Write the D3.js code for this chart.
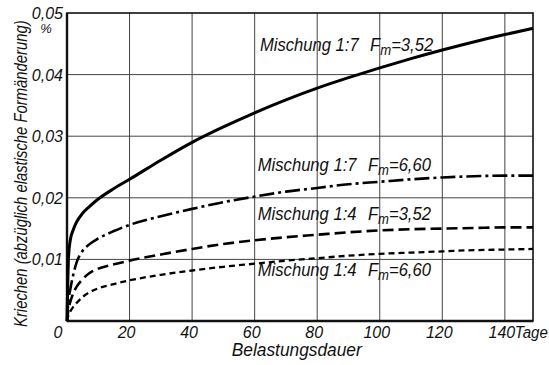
<!DOCTYPE html>
<html>
<head>
<meta charset="utf-8">
<script src="https://cdn.jsdelivr.net/npm/d3@7"></script>
<style>
  body { margin: 0; background: #fff; }
  text { font-family: "Liberation Sans", Arial, sans-serif; font-style: italic; fill: #111; }
</style>
</head>
<body>
<script>
// days of loading
var days = [0, 0.5, 1, 2, 3, 5, 7, 10, 15, 20, 30, 40, 50, 60, 70, 80, 90, 100, 110, 120, 130, 140, 149];

// creep values in %
var mix17_352 = [0, 0.0105, 0.013, 0.0148, 0.016, 0.0175, 0.0185, 0.0198, 0.0215, 0.0230, 0.0261, 0.0290, 0.0315, 0.0338, 0.0359, 0.0378, 0.0395, 0.0411, 0.0426, 0.0440, 0.0453, 0.0465, 0.0475];
var mix17_660 = [0, 0.0035, 0.005, 0.0075, 0.0094, 0.0114, 0.0124, 0.0134, 0.0146, 0.0156, 0.0170, 0.0182, 0.0193, 0.0202, 0.0210, 0.0216, 0.0222, 0.0226, 0.0230, 0.0233, 0.0235, 0.0236, 0.0236];
var mix14_352 = [0, 0.002, 0.003, 0.0045, 0.0055, 0.0068, 0.0077, 0.0085, 0.0092, 0.0098, 0.0108, 0.0117, 0.0125, 0.0131, 0.0136, 0.0140, 0.0144, 0.0147, 0.0149, 0.0150, 0.0151, 0.0152, 0.0152];
var mix14_660 = [0, 0.001, 0.0015, 0.0023, 0.0029, 0.0039, 0.0046, 0.0053, 0.0060, 0.0066, 0.0075, 0.0082, 0.0088, 0.0093, 0.0098, 0.0102, 0.0106, 0.0109, 0.0111, 0.0113, 0.0115, 0.0116, 0.0117];

var xTicks = [20, 40, 60, 80, 100, 120, 140];
var xTickLabels = ["20", "40", "60", "80", "100", "120", "140"];
var yTicks = [0.01, 0.02, 0.03, 0.04, 0.05];
var yTickLabels = ["0,01", "0,02", "0,03", "0,04", "0,05"];

var series = [
  {name: "Mischung 1:7", fm: "3,52", values: mix17_352},
  {name: "Mischung 1:7", fm: "6,60", values: mix17_660},
  {name: "Mischung 1:4", fm: "3,52", values: mix14_352},
  {name: "Mischung 1:4", fm: "6,60", values: mix14_660}
];

// set the dimensions and margins of the graph
var margin = {top: 13, right: 16, bottom: 44, left: 67},
    width = 549 - margin.left - margin.right,
    height = 365 - margin.top - margin.bottom;

var x = d3.scaleLinear().domain([0, 149]).range([0, width]);
var y = d3.scaleLinear().domain([0, 0.05]).range([height, 0]);

var svg = d3.select("body")
    .append("svg")
        .attr("width", 549)
        .attr("height", 365)
    .append("g")
        .attr("transform", "translate(" + margin.left + "," + margin.top + ")");

// squeeze a text horizontally to a given width (the original lettering is very narrow)
function squeeze(t, px, py, w) {
  var l = t.node().getComputedTextLength();
  t.attr("transform", "translate(" + px + "," + py + ") scale(" + (w / l) + ",1)");
}

// grid
svg.selectAll(".vgrid")
    .data(xTicks)
  .enter().append("line")
    .attr("x1", function(d) { return x(d); })
    .attr("x2", function(d) { return x(d); })
    .attr("y1", 0).attr("y2", height)
    .style("stroke", "#444").style("stroke-width", 1);

svg.selectAll(".hgrid")
    .data(yTicks.slice(0, 4))
  .enter().append("line")
    .attr("x1", 0).attr("x2", width)
    .attr("y1", function(d) { return y(d); })
    .attr("y2", function(d) { return y(d); })
    .style("stroke", "#444").style("stroke-width", 1);

// frame
svg.append("rect")
    .attr("width", width).attr("height", height)
    .style("fill", "none").style("stroke", "#111").style("stroke-width", 1.6);
svg.append("line").attr("x1", 0).attr("x2", 0).attr("y1", 0).attr("y2", height)
    .style("stroke", "#111").style("stroke-width", 2.4);
svg.append("line").attr("x1", 0).attr("x2", width).attr("y1", height).attr("y2", height)
    .style("stroke", "#111").style("stroke-width", 2.4);

// curves
var styles = [
  {w: 3, dash: null},
  {w: 2.6, dash: "15,4,3,4"},
  {w: 2.6, dash: "11,5"},
  {w: 2.3, dash: "6,4"}
];

var line = d3.line()
    .x(function(d, i) { return x(days[i]); })
    .y(function(d) { return y(d); })
    .curve(d3.curveMonotoneX);

series.forEach(function(s, k) {
  svg.append("path")
      .datum(s.values)
      .style("fill", "none")
      .style("stroke", "#000")
      .style("stroke-width", styles[k].w)
      .style("stroke-dasharray", styles[k].dash)
      .attr("d", line);
});

// curve labels
var labelPos = [[61.7, 0.0438], [61, 0.0243], [61, 0.0164], [61, 0.0073]];
series.forEach(function(s, k) {
  var t = svg.append("text")
      .style("font-size", "19px");
  t.append("tspan").text(s.name);
  t.append("tspan").attr("dx", 13).text("F");
  t.append("tspan").attr("dy", 4).style("font-size", "15px").text("m");
  t.append("tspan").attr("dy", -4).text("=" + s.fm);
  squeeze(t, x(labelPos[k][0]), y(labelPos[k][1]), 162);
});

// x tick labels
svg.selectAll(".xlab")
    .data(xTicks)
  .enter().append("text")
    .attr("x", function(d) { return x(d) - 3; })
    .attr("y", height + 17)
    .attr("text-anchor", "middle")
    .style("font-size", "16px")
    .text(function(d, i) { return xTickLabels[i]; });

svg.append("text")
    .attr("x", x(0) - 9).attr("y", height + 17)
    .attr("text-anchor", "middle")
    .style("font-size", "16px")
    .text("0");

var tage = svg.append("text")
    .style("font-size", "17px")
    .text("Tage");
squeeze(tage, x(140) + 10, height + 17, 33);

// y tick labels
svg.selectAll(".ylab")
    .data(yTicks)
  .enter().append("text")
    .attr("x", -4)
    .attr("y", function(d) { return y(d) + 6; })
    .attr("text-anchor", "end")
    .style("font-size", "16px")
    .text(function(d, i) { return yTickLabels[i]; });

svg.append("text")
    .attr("x", -21).attr("y", y(0.05) + 20)
    .attr("text-anchor", "middle")
    .style("font-size", "13px")
    .text("%");

// axis titles
var xt = svg.append("text")
    .style("font-size", "19px")
    .text("Belastungsdauer");
squeeze(xt, x(52.7), height + 35, 130);

var yt = svg.append("text")
    .style("font-size", "18px")
    .text("Kriechen (abzüglich elastische Formänderung)");
var yl = yt.node().getComputedTextLength();
yt.attr("transform", "translate(-40," + (height + 6) + ") rotate(-90) scale(" + (307 / yl) + ",1)");
</script>
</body>
</html>
